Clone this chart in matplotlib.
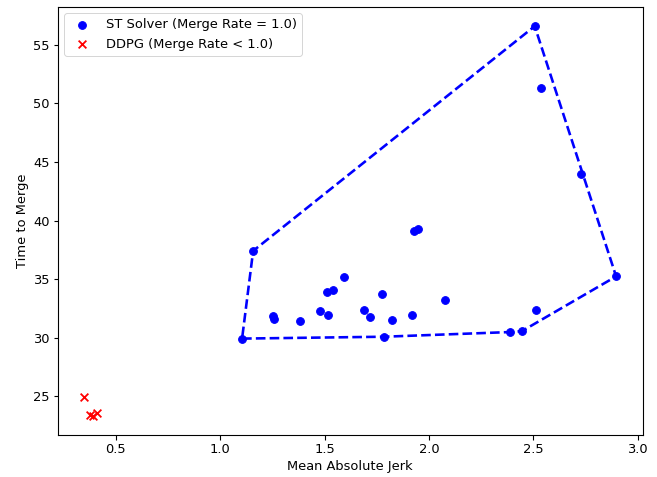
import numpy as np
import matplotlib
matplotlib.use("Agg")
import matplotlib.pyplot as plt

st_jerk = [1.105, 1.158, 1.252, 1.256, 1.384, 1.476, 1.516, 1.511, 1.540, 1.593,
           1.691, 1.718, 1.774, 1.785, 1.822, 1.918, 2.077, 2.391, 2.446, 2.515,
           2.507, 2.539, 2.730, 2.897, 1.929, 1.948]
st_time = [29.92, 37.41, 31.89, 31.61, 31.38, 32.26, 31.92, 33.90, 34.04, 35.14,
           32.40, 31.78, 33.74, 30.08, 31.55, 31.92, 33.25, 30.48, 30.56, 32.34,
           56.60, 51.36, 44.00, 35.23, 39.10, 39.24]

ddpg_jerk = [0.349, 0.376, 0.392, 0.409]
ddpg_time = [24.96, 23.40, 23.35, 23.55]


def convex_hull(xs, ys):
    pts = sorted(set(zip(xs, ys)))

    def cross(o, a, b):
        return (a[0] - o[0]) * (b[1] - o[1]) - (a[1] - o[1]) * (b[0] - o[0])

    lower = []
    for p in pts:
        while len(lower) >= 2 and cross(lower[-2], lower[-1], p) <= 0:
            lower.pop()
        lower.append(p)
    upper = []
    for p in reversed(pts):
        while len(upper) >= 2 and cross(upper[-2], upper[-1], p) <= 0:
            upper.pop()
        upper.append(p)
    hull = lower[:-1] + upper[:-1]
    hull.append(hull[0])
    return [p[0] for p in hull], [p[1] for p in hull]


fig = plt.figure(figsize=(657 / 72, 477 / 72), dpi=72)
ax = fig.add_axes([57.7 / 657, 42 / 477, (642.7 - 57.7) / 657, (435 - 6.7) / 477])

ax.scatter(st_jerk, st_time, color="blue", s=60, label="ST Solver (Merge Rate = 1.0)")
ax.scatter(ddpg_jerk, ddpg_time, color="red", marker="x", s=60, linewidths=1.8,
           label="DDPG (Merge Rate < 1.0)")

hx, hy = convex_hull(st_jerk, st_time)
ax.plot(hx, hy, "b--", lw=2.6, dashes=(3.7, 1.6))

ax.set_xlabel("Mean Absolute Jerk", fontsize=13)
ax.set_ylabel("Time to Merge", fontsize=13)
ax.tick_params(labelsize=13, length=4.5, width=1.1)
for s in ax.spines.values():
    s.set_linewidth(1.1)
ax.legend(loc="upper left", fontsize=13)

fig.savefig("out.png", dpi=72)
